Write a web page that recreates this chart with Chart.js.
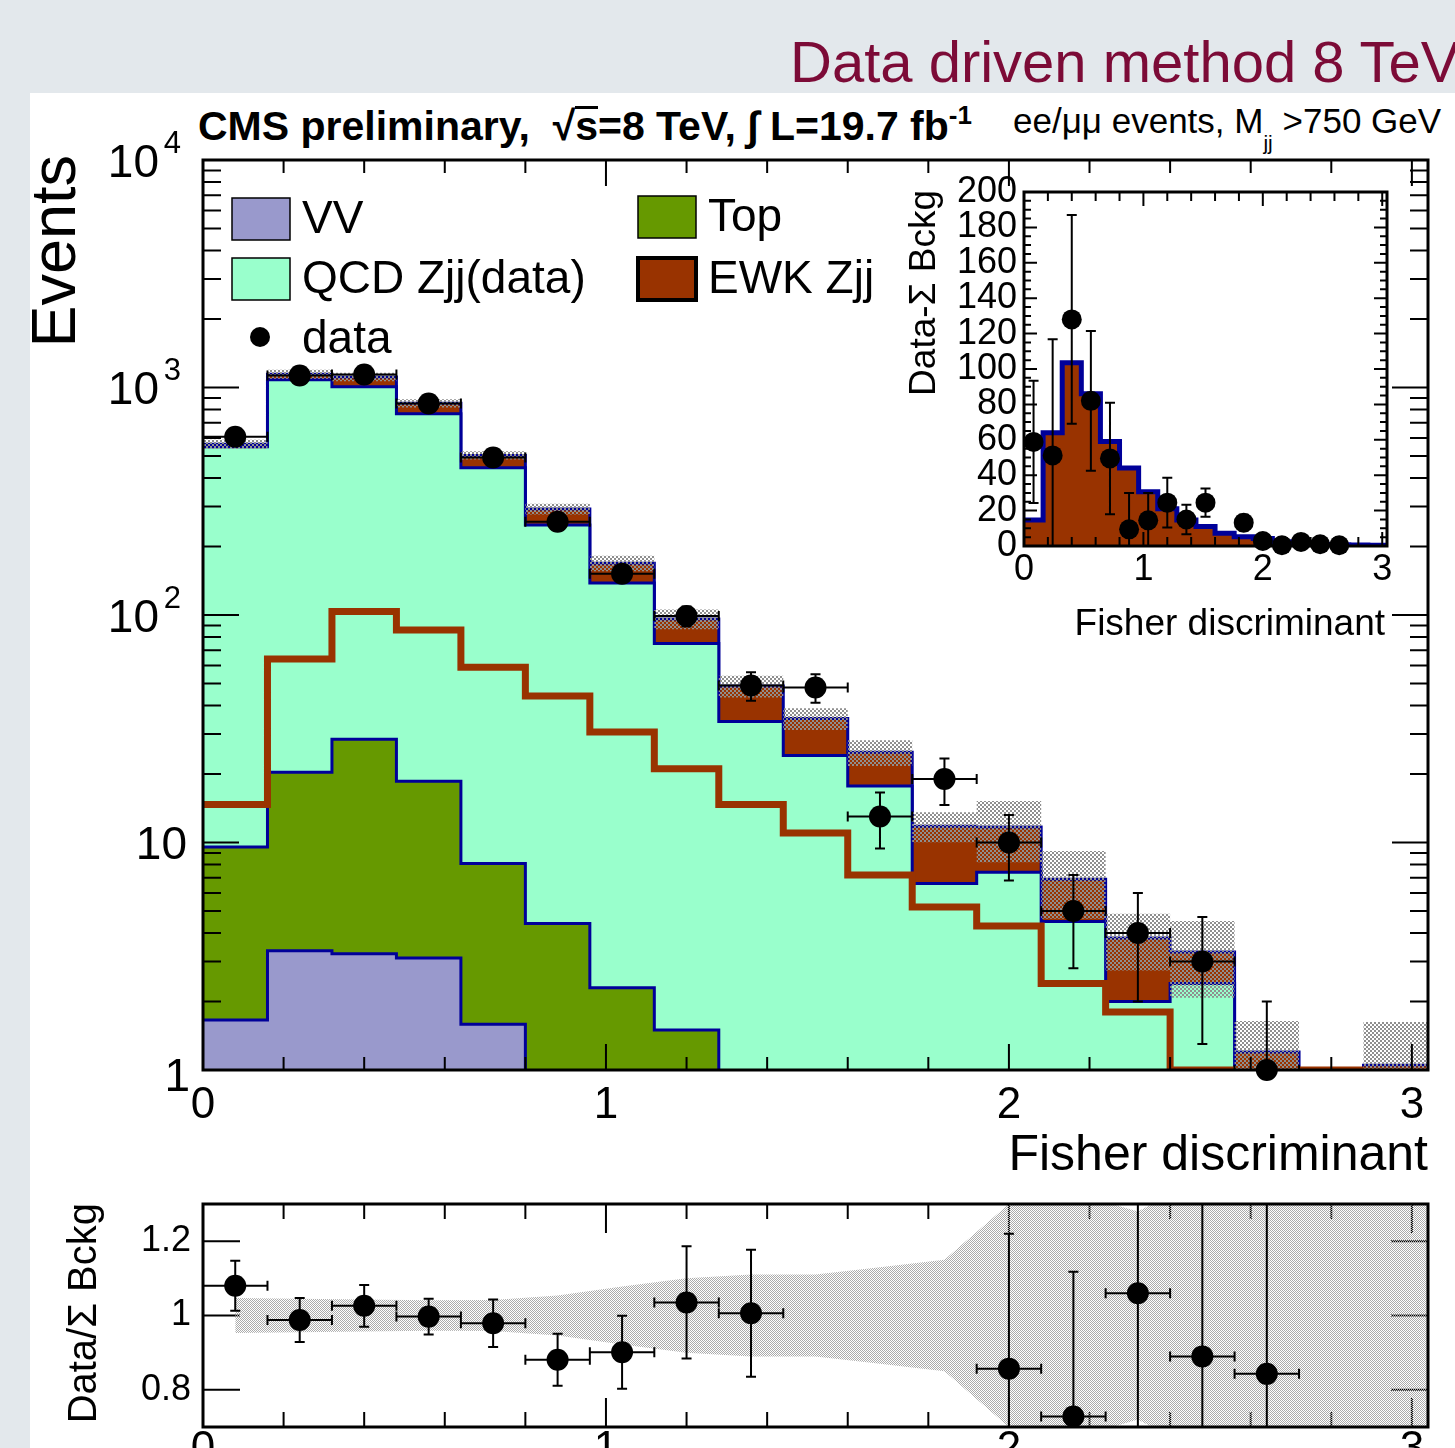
<!DOCTYPE html>
<html>
<head>
<meta charset="utf-8">
<title>Data driven method 8 TeV - Fisher discriminant</title>
<script src="https://cdn.jsdelivr.net/npm/chart.js@4.4.1/dist/chart.umd.min.js"></script>
<style>
  body { margin: 0; width: 1455px; height: 1448px; overflow: hidden; position: relative;
         background: #e3e8ec; font-family: "Liberation Sans", Arial, Helvetica, sans-serif; }
  #slide_title { position: absolute; left: 790px; top: 33px; font-size: 58px; line-height: 58px;
                 color: #7c0b37; white-space: nowrap; }
  #panel { position: absolute; left: 30px; top: 93px; width: 1425px; height: 1355px; background: #fff; }
  canvas { position: absolute; }
  #cms_text { position: absolute; left: 198px; top: 106px; font-size: 41px; line-height: 41px;
              font-weight: bold; white-space: nowrap; }
  #cms_text sup { font-size: 26px; vertical-align: 16px; line-height: 0; }
  .ovl { border-top: 3px solid #000; line-height: 34px; display: inline-block; }
  #sel_text { position: absolute; left: 1013px; top: 103px; font-size: 35px; line-height: 35px; white-space: nowrap; }
  #sel_text sub { font-size: 21px; vertical-align: -17px; line-height: 0; }
</style>
</head>
<body>
<div id="slide_title">Data driven method 8 TeV</div>
<div id="panel"></div>
<div id="cms_text">CMS preliminary,&nbsp; √<span class="ovl">s</span>=8 TeV, ∫ L=19.7 fb<sup>-1</sup></div>
<div id="sel_text">ee/μμ events, M<sub>jj</sub> &gt;750 GeV</div>
<canvas id="mainChart" width="1455" height="1180" style="left:0;top:0"></canvas>
<canvas id="insetChart" width="560" height="490" style="left:880px;top:170px"></canvas>
<canvas id="ratioChart" width="1455" height="268" style="left:0;top:1180px"></canvas>

<script>
/* binning: 19 bins of 0.16 from 0 to 3.04 */
const binWidth = 0.16;
const xMax = 3.04;

/* main pad, events per bin */
const dataCounts = [608, 1130, 1141, 850, 492, 257, 152, 99, 49, 48, 13, 19, 10, 5, 4, 3, 1, 0, 0];
const dataErrors = [24.7, 33.6, 33.8, 29.2, 22.2, 16, 12.3, 9.9, 7, 6.9, 3.6, 4.4, 3.2, 2.2, 2, 1.7, 1, 0, 0];
const vvValues   = [1.66, 3.34, 3.24, 3.11, 1.59, 0, 0, 0, 0, 0, 0, 0, 0, 0, 0, 0, 0, 0, 0];
const topValues  = [7.9, 17, 25.2, 15.5, 6.5, 4.4, 2.3, 1.5, 0.5, 0.3, 0, 0, 0, 0, 0, 0, 0, 0, 0];
const qcdValues  = [539, 1060, 980, 748, 436, 244, 136, 73.5, 33.5, 23.8, 17.7, 6.6, 7.4, 4.5, 2.0, 2.4, 0.5, 0, 0.65];
const ewkValues  = [14.7, 64, 103.5, 86, 59, 44, 30.6, 21.1, 14.7, 11, 7.2, 5.2, 4.3, 2.4, 1.8, 0.9, 0.7, 0.5, 0.4];
// relative uncertainty on the summed prediction (hatched band)
const bkgRelUnc  = [0.047, 0.045, 0.043, 0.041, 0.042, 0.054, 0.078, 0.10, 0.11, 0.11, 0.13, 0.15, 0.30, 0.33, 0.28, 0.37, 0.37, 1.0, 0.55];

/* inset, data - sum of backgrounds */
const diffValues = [58.8, 51.2, 128, 82, 49.5, 9.4, 14.5, 24.5, 15, 24.5, -5, 13.2, 2.8, 0.4, 2.3, 1, 0.4, null, null];
const diffErrors = [34.5, 65.6, 59, 39.5, 31.5, 20.6, 15.5, 14, 8.3, 8, 5, 4.5, 3.2, 2.2, 2, 1.7, 1, null, null];

/* lower pad, data / sum */
const ratioValues = [1.08, 0.988, 1.026, 0.997, 0.979, 0.881, 0.901, 1.035, 1.006, 1.38, 0.52, 1.61, 0.857, 0.728, 1.06, 0.89, 0.843, null, null];
const ratioErrors = [0.067, 0.059, 0.056, 0.048, 0.064, 0.07, 0.098, 0.151, 0.171, 0.2, 0.15, 0.37, 0.363, 0.39, 0.53, 0.51, 0.84, null, null];

/* tick labels */
const mainXLabels = [0, 1, 2, 3];
const mainYDecades = [1, 10, 100, 1000, 10000];
const insetXLabels = [0, 1, 2, 3];
const insetYLabels = [0, 20, 40, 60, 80, 100, 120, 140, 160, 180, 200];
const ratioYLabels = [0.8, 1, 1.2];

const COL_VV = '#9999cc', COL_TOP = '#669900', COL_QCD = '#99ffcc', COL_EWK = '#993300', COL_LINE = '#000099';
const FONT = '"Liberation Sans", Arial, Helvetica, sans-serif';
function F(px, bold) { return (bold ? 'bold ' : '') + px + 'px ' + FONT; }

/* helpers */
// log axis drops zeros as gaps; push empty bins far below the frame instead
function logSafe(v) { return v > 0 ? v : 1e-3; }
function stepPoints(values) {
    const pts = values.map((v, i) => ({x: i * binWidth, y: v}));
    pts.push({x: values.length * binWidth, y: values[values.length - 1]});
    return pts;
}
function centerPoints(values, lo, hi) {
    return values.map((v, i) => ({x: (i + 0.5) * binWidth, y: (v === null || v < lo || v > hi) ? null : v}));
}
function sumSeries(...series) {
    return series[0].map((_, i) => series.reduce((s, a) => s + a[i], 0));
}
function checkerPattern(color, cell) {
    const c = document.createElement('canvas');
    c.width = c.height = cell * 2;
    const g = c.getContext('2d');
    g.fillStyle = color;
    g.fillRect(0, 0, cell, cell);
    g.fillRect(cell, cell, cell, cell);
    return g.createPattern(c, 'repeat');
}
function linearTicks(from, to, step, majorEvery, minorLen, majorLen) {
    const out = [];
    const n = Math.round((to - from) / step);
    for (let k = 0; k <= n; k++) {
        out.push({v: from + k * step, len: k % majorEvery === 0 ? majorLen : minorLen});
    }
    return out;
}
function logTicks(decades, minorLen, majorLen) {
    const out = [];
    decades.forEach((d, i) => {
        out.push({v: d, len: majorLen});
        if (i < decades.length - 1) {
            for (let m = 2; m <= 9; m++) out.push({v: m * d, len: minorLen});
        }
    });
    return out;
}
function drawTicks(chart, xTicks, yTicks, width) {
    const {ctx, chartArea: a, scales: {x, y}} = chart;
    ctx.save();
    ctx.strokeStyle = '#000';
    ctx.lineWidth = width;
    ctx.beginPath();
    xTicks.forEach(t => {
        const px = x.getPixelForValue(t.v);
        ctx.moveTo(px, a.bottom); ctx.lineTo(px, a.bottom - t.len);
        ctx.moveTo(px, a.top); ctx.lineTo(px, a.top + t.len);
    });
    yTicks.forEach(t => {
        const py = y.getPixelForValue(t.v);
        ctx.moveTo(a.left, py); ctx.lineTo(a.left + t.len, py);
        ctx.moveTo(a.right, py); ctx.lineTo(a.right - t.len, py);
    });
    ctx.stroke();
    ctx.restore();
}
function drawFrame(chart, width) {
    const {ctx, chartArea: a} = chart;
    ctx.save();
    ctx.strokeStyle = '#000';
    ctx.lineWidth = width;
    ctx.strokeRect(a.left, a.top, a.right - a.left, a.bottom - a.top);
    ctx.restore();
}
function rotatedTitle(ctx, str, x, yTop, px) {
    ctx.save();
    ctx.translate(x, yTop);
    ctx.rotate(-Math.PI / 2);
    ctx.font = F(px);
    ctx.textAlign = 'right';
    ctx.textBaseline = 'middle';
    ctx.fillStyle = '#000';
    ctx.fillText(str, 0, 0);
    ctx.restore();
}

/* error bars drawn under the markers of a dataset */
const errorBars = {
    id: 'errorBars',
    beforeDatasetDraw(chart, args) {
        const ds = chart.data.datasets[args.index];
        if (!ds.yErrors) return;
        const {ctx, chartArea: a, scales: {x, y}} = chart;
        const isLog = y.type === 'logarithmic';
        const cap = ds.capHalf;
        ctx.save();
        ctx.beginPath();
        ctx.rect(a.left, a.top, a.right - a.left, a.bottom - a.top);
        ctx.clip();
        ctx.strokeStyle = '#000';
        ctx.lineWidth = ds.errLineWidth;
        ctx.beginPath();
        ds.data.forEach((p, i) => {
            if (p.y === null) return;
            const e = ds.yErrors[i];
            const px = x.getPixelForValue(p.x);
            const py = y.getPixelForValue(p.y);
            const lo = p.y - e;
            const pyHi = y.getPixelForValue(p.y + e);
            const offBottom = isLog && lo <= 0;
            const pyLo = offBottom ? a.bottom + 40 : y.getPixelForValue(lo);
            ctx.moveTo(px, pyHi); ctx.lineTo(px, pyLo);
            ctx.moveTo(px - cap, pyHi); ctx.lineTo(px + cap, pyHi);
            if (!offBottom) { ctx.moveTo(px - cap, pyLo); ctx.lineTo(px + cap, pyLo); }
            if (ds.xHalf) {
                const pl = x.getPixelForValue(p.x - ds.xHalf);
                const pr = x.getPixelForValue(p.x + ds.xHalf);
                ctx.moveTo(pl, py); ctx.lineTo(pr, py);
                ctx.moveTo(pl, py - cap); ctx.lineTo(pl, py + cap);
                ctx.moveTo(pr, py - cap); ctx.lineTo(pr, py + cap);
            }
        });
        ctx.stroke();
        ctx.restore();
    }
};

/* ---------- main pad ---------- */
const stackTop = sumSeries(vvValues, topValues);
const stackQcd = sumSeries(vvValues, topValues, qcdValues);
const stackTotal = sumSeries(vvValues, topValues, qcdValues, ewkValues);
const mainYMin = 1, mainYMax = 10000;

function histLayer(label, values, fillColor, order) {
    return {
        label, data: stepPoints(values.map(logSafe)), stepped: true, fill: 'start',
        backgroundColor: fillColor, borderColor: COL_LINE, borderWidth: 3,
        pointRadius: 0, pointHoverRadius: 0, order
    };
}

const mainXTicks = linearTicks(0, 3, 0.2, 5, 13, 26);
const mainYTicks = logTicks(mainYDecades, 18, 36);

const legendItems = [
    {label: 'VV', color: COL_VV, x: 232, y: 198},
    {label: 'QCD Zjj(data)', color: COL_QCD, x: 232, y: 258},
    {label: 'data', marker: true, x: 232, y: 318},
    {label: 'Top', color: COL_TOP, x: 638, y: 196},
    {label: 'EWK Zjj', color: COL_EWK, x: 638, y: 258, thick: true}
];

const mainDecor = {
    id: 'mainDecor',
    afterDatasetsDraw(chart) {
        const {ctx, chartArea: a, scales: {x, y}} = chart;
        drawTicks(chart, mainXTicks, mainYTicks, 2);
        drawFrame(chart, 3);
        ctx.save();
        ctx.fillStyle = '#000';
        ctx.font = F(44);
        ctx.textAlign = 'center';
        ctx.textBaseline = 'middle';
        mainXLabels.forEach(v => ctx.fillText(String(v), x.getPixelForValue(v), a.bottom + 36));
        ctx.textAlign = 'right';
        mainYDecades.forEach(d => {
            const py = y.getPixelForValue(d);
            const exp = Math.round(Math.log10(d));
            if (exp === 0) {
                ctx.font = F(46); ctx.fillText('1', a.left - 13, py + 8);
            } else if (exp === 1) {
                ctx.font = F(46); ctx.fillText('10', a.left - 16, py + 4);
            } else {
                ctx.font = F(31); ctx.fillText(String(exp), a.left - 22, py - 16);
                ctx.font = F(46); ctx.fillText('10', a.left - 44, py + 4);
            }
        });
        ctx.font = F(50);
        ctx.textBaseline = 'alphabetic';
        ctx.fillText('Fisher discriminant', a.right, a.bottom + 100);
        ctx.restore();
        rotatedTitle(ctx, 'Events', 58, a.top - 5, 63);

        // legend
        ctx.save();
        legendItems.forEach(it => {
            if (it.marker) {
                ctx.fillStyle = '#000';
                ctx.beginPath();
                ctx.arc(it.x + 28, it.y + 19, 10, 0, Math.PI * 2);
                ctx.fill();
            } else {
                ctx.fillStyle = it.color;
                ctx.fillRect(it.x, it.y, 58, 42);
                ctx.strokeStyle = '#000';
                ctx.lineWidth = it.thick ? 4 : 1.5;
                ctx.strokeRect(it.x, it.y, 58, 42);
            }
            ctx.fillStyle = '#000';
            ctx.font = F(46);
            ctx.textAlign = 'left';
            ctx.textBaseline = 'middle';
            ctx.fillText(it.label, it.x + 70, it.y + 22);
        });
        ctx.restore();
    }
};

const hatchMain = checkerPattern('#8f8f8f', 2);

new Chart(document.getElementById('mainChart'), {
    type: 'line',
    data: {
        datasets: [
            {
                label: 'data',
                data: centerPoints(dataCounts, mainYMin, Infinity),
                showLine: false, pointRadius: 11, pointHoverRadius: 11,
                pointBackgroundColor: '#000', pointBorderColor: '#000', pointBorderWidth: 0,
                clip: false, order: 0,
                yErrors: dataErrors, xHalf: binWidth / 2, capHalf: 5, errLineWidth: 2
            },
            {
                label: 'band up', data: stepPoints(stackTotal.map((t, i) => logSafe(t * (1 + bkgRelUnc[i])))),
                stepped: true, fill: '+1', backgroundColor: hatchMain,
                borderWidth: 0, borderColor: 'transparent', pointRadius: 0, order: 2
            },
            {
                label: 'band down', data: stepPoints(stackTotal.map((t, i) => logSafe(t * (1 - bkgRelUnc[i])))),
                stepped: true, fill: false, borderWidth: 0, borderColor: 'transparent', pointRadius: 0, order: 2
            },
            {
                label: 'EWK Zjj line', data: stepPoints(ewkValues.map(v => Math.max(v, mainYMin))),
                stepped: true, fill: false, borderColor: COL_EWK, borderWidth: 7,
                pointRadius: 0, order: 3
            },
            histLayer('VV', vvValues, COL_VV, 4),
            histLayer('Top', stackTop, COL_TOP, 5),
            histLayer('QCD Zjj(data)', stackQcd, COL_QCD, 6),
            histLayer('EWK Zjj', stackTotal, COL_EWK, 7)
        ]
    },
    options: {
        responsive: false, animation: false, devicePixelRatio: 1,
        layout: {padding: {left: 203, top: 160, right: 27, bottom: 110}},
        scales: {
            x: {type: 'linear', min: 0, max: xMax, display: false},
            y: {type: 'logarithmic', min: mainYMin, max: mainYMax, display: false}
        },
        plugins: {legend: {display: false}, tooltip: {enabled: false}}
    },
    plugins: [errorBars, mainDecor]
});

/* ---------- inset ---------- */
const insetXTicks = linearTicks(0, 3, 0.2, 5, 9, 14);
const insetYTicks = linearTicks(0, 200, 5, 4, 7, 13);

const insetDecor = {
    id: 'insetDecor',
    afterDatasetsDraw(chart) {
        const {ctx, chartArea: a, scales: {x, y}} = chart;
        drawTicks(chart, insetXTicks, insetYTicks, 2);
        drawFrame(chart, 3);
        ctx.save();
        ctx.fillStyle = '#000';
        ctx.font = F(36);
        ctx.textAlign = 'right';
        ctx.textBaseline = 'middle';
        insetYLabels.forEach(v => ctx.fillText(String(v), a.left - 7, y.getPixelForValue(v)));
        ctx.textAlign = 'center';
        insetXLabels.forEach(v => ctx.fillText(String(v), x.getPixelForValue(v), a.bottom + 24));
        ctx.font = F(37);
        ctx.textAlign = 'right';
        ctx.textBaseline = 'alphabetic';
        ctx.fillText('Fisher discriminant', a.right - 2, a.bottom + 89);
        ctx.restore();
        rotatedTitle(ctx, 'Data-Σ Bckg', a.left - 99, a.top - 2, 37);
    }
};

new Chart(document.getElementById('insetChart'), {
    type: 'line',
    data: {
        datasets: [
            {
                label: 'data - bckg',
                data: centerPoints(diffValues, 0, 200),
                showLine: false, pointRadius: 10, pointHoverRadius: 10,
                pointBackgroundColor: '#000', pointBorderWidth: 0, clip: false, order: 0,
                yErrors: diffErrors, xHalf: 0, capHalf: 5, errLineWidth: 2
            },
            {
                label: 'EWK Zjj', data: stepPoints(ewkValues), stepped: true, fill: 'origin',
                backgroundColor: COL_EWK, borderColor: COL_LINE, borderWidth: 5,
                pointRadius: 0, order: 1
            }
        ]
    },
    options: {
        responsive: false, animation: false, devicePixelRatio: 1,
        layout: {padding: {left: 144, top: 22, right: 53, bottom: 114}},
        scales: {
            x: {type: 'linear', min: 0, max: xMax, display: false},
            y: {type: 'linear', min: 0, max: 200, display: false}
        },
        plugins: {legend: {display: false}, tooltip: {enabled: false}}
    },
    plugins: [errorBars, insetDecor]
});

/* ---------- ratio pad ---------- */
const ratioMin = 0.7, ratioMax = 1.3;
const ratioXTicks = linearTicks(0, 3, 0.2, 5, 15, 29);
const ratioYTicks = linearTicks(0.8, 1.2, 0.2, 1, 37, 37);
const hatchRatio = checkerPattern('#ababab', 1);

function ratioBand(sign) {
    const pts = bkgRelUnc.map((u, i) => ({x: (i + 0.5) * binWidth, y: 1 + sign * u}));
    pts.push({x: xMax, y: 1 + sign * bkgRelUnc[bkgRelUnc.length - 1]});
    return pts;
}

const ratioDecor = {
    id: 'ratioDecor',
    beforeDatasetsDraw(chart) {
        drawTicks(chart, ratioXTicks, ratioYTicks, 2);
    },
    afterDatasetsDraw(chart) {
        const {ctx, chartArea: a, scales: {x, y}} = chart;
        drawFrame(chart, 3);
        ctx.save();
        ctx.fillStyle = '#000';
        ctx.font = F(36);
        ctx.textAlign = 'right';
        ctx.textBaseline = 'middle';
        ratioYLabels.forEach(v => ctx.fillText(String(v), a.left - 12, y.getPixelForValue(v)));
        ctx.font = F(44);
        ctx.textAlign = 'center';
        ctx.textBaseline = 'top';
        mainXLabels.forEach(v => ctx.fillText(String(v), x.getPixelForValue(v), a.bottom + 1));
        ctx.restore();
        rotatedTitle(ctx, 'Data/Σ Bckg', 85, a.top - 1, 40);
    }
};

new Chart(document.getElementById('ratioChart'), {
    type: 'line',
    data: {
        datasets: [
            {
                label: 'data / bckg',
                data: centerPoints(ratioValues, ratioMin, ratioMax),
                showLine: false, pointRadius: 11, pointHoverRadius: 11,
                pointBackgroundColor: '#000', pointBorderWidth: 0, order: 0,
                yErrors: ratioErrors, xHalf: binWidth / 2, capHalf: 5, errLineWidth: 2
            },
            {
                label: 'unc up', data: ratioBand(1), fill: '+1', backgroundColor: hatchRatio,
                borderWidth: 0, borderColor: 'transparent', pointRadius: 0, tension: 0, order: 1
            },
            {
                label: 'unc down', data: ratioBand(-1), fill: false,
                borderWidth: 0, borderColor: 'transparent', pointRadius: 0, tension: 0, order: 1
            }
        ]
    },
    options: {
        responsive: false, animation: false, devicePixelRatio: 1,
        layout: {padding: {left: 203, top: 24, right: 27, bottom: 21}},
        scales: {
            x: {type: 'linear', min: 0, max: xMax, display: false},
            y: {type: 'linear', min: ratioMin, max: ratioMax, display: false}
        },
        plugins: {legend: {display: false}, tooltip: {enabled: false}}
    },
    plugins: [errorBars, ratioDecor]
});
</script>
</body>
</html>
